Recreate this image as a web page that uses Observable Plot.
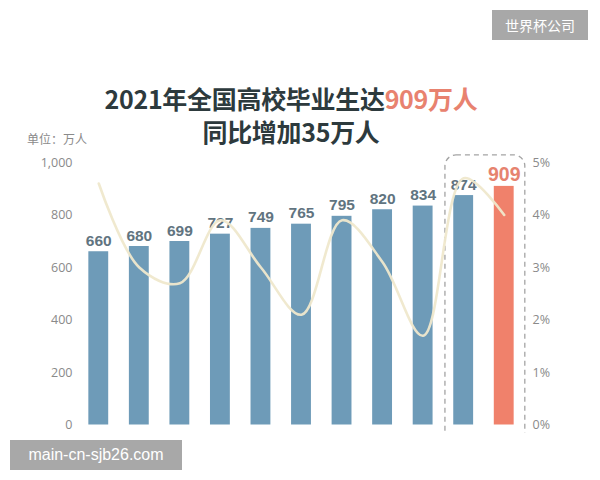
<!DOCTYPE html>
<html>
<head>
<meta charset="utf-8">
<script src="https://cdn.jsdelivr.net/npm/d3@7"></script>
<script src="https://cdn.jsdelivr.net/npm/@observablehq/plot@0.6"></script>
<style>
  html, body { margin: 0; padding: 0; background: #fff; }
  #root { position: relative; width: 600px; height: 480px; overflow: hidden; background: #fff; }
  .title { position: absolute; left: 0; width: 582px; text-align: center;
           font-family: "Noto Sans CJK SC", sans-serif; font-weight: 700; font-size: 25px;
           color: #2d3a3d; line-height: 1; white-space: nowrap; letter-spacing: -0.3px; }
  .title .hi { color: #e8826f; }
  #unit { position: absolute; left: 27px; top: 130px; font-family: "Noto Sans CJK SC", sans-serif;
          font-size: 12px; color: #8a8a8a; }
  #chart { position: absolute; left: 0; top: 140px; width: 600px; height: 293px; overflow: hidden; }
  #chart svg { position: absolute; left: 0; top: 0; }
  .tag { position: absolute; background: #a8a8a8; color: #fff; font-family: "Noto Sans CJK SC", sans-serif; }
</style>
</head>
<body>
<div id="root">
  <div class="title" style="top:86px">2021年全国高校毕业生达<span class="hi">909万人</span></div>
  <div class="title" style="top:119px">同比增加35万人</div>
  <div id="unit">单位：万人</div>
  <div id="chart"></div>
  <div class="tag" style="left:492px; top:10px; width:96px; height:30px; line-height:30px; text-align:center; font-size:14px;">世界杯公司</div>
  <div class="tag" style="left:10px; top:440px; width:172px; height:30px; line-height:30px; text-align:center; font-size:16px; font-family:'Liberation Sans', sans-serif;">main-cn-sjb26.com</div>
</div>
<script>
// Graduates of Chinese higher education (10k persons) and year-on-year growth (%)
const years = [2011, 2012, 2013, 2014, 2015, 2016, 2017, 2018, 2019, 2020, 2021];
const graduates = [660, 680, 699, 727, 749, 765, 795, 820, 834, 874, 909];
const growth = [4.6, 3.0, 2.7, 3.9, 3.0, 2.1, 3.9, 3.1, 1.7, 4.7, 4.0];
const countTicks = [0, 200, 400, 600, 800, 1000];
const rateTicks = [0, 1, 2, 3, 4, 5];
const highlightYears = [2020, 2021];

const rows = years.map((year, i) => ({year, grads: graduates[i], rate: growth[i]}));
const latest = years[years.length - 1];

const blue = "#6e9bb8";
const red = "#f0816b";

const shared = {
  width: 600,
  height: 300,
  marginLeft: 78,
  marginRight: 76,
  marginTop: 22,
  marginBottom: 15.5,
  x: {domain: [2010.5, 2021.5], axis: null}
};

const axisStyle = {
  background: "transparent",
  fontFamily: "'Open Sans', sans-serif",
  fontSize: "12.5px",
  color: "#8a8a8a",
  overflow: "visible"
};

// Bars, value labels and the dashed box around the latest two years
const bars = Plot.plot({
  ...shared,
  style: axisStyle,
  y: {domain: [0, 1000], ticks: countTicks, tickFormat: d3.format(","), tickSize: 0, tickPadding: 6, label: null, axis: "left"},
  marks: [
    Plot.rect([highlightYears], {
      x1: d => d[0] - 0.45,
      x2: d => d[1] + 0.52,
      y1: () => -100,
      y2: () => 1027,
      rx: 11,
      fill: "none",
      stroke: "#a4a4a4",
      strokeWidth: 1.3,
      strokeDasharray: "5,4"
    }),
    Plot.rectY(rows, {
      x1: d => d.year - 0.245,
      x2: d => d.year + 0.245,
      y1: 0,
      y2: "grads",
      fill: d => d.year === latest ? red : blue
    }),
    Plot.text(rows.filter(d => d.year !== latest), {
      x: "year", y: "grads", text: d => String(d.grads),
      lineAnchor: "bottom", dy: -6,
      fill: "#617480", fontSize: 15.5, fontWeight: 700,
      fontFamily: "'Liberation Sans', Arial, sans-serif"
    }),
    Plot.text(rows.filter(d => d.year === latest), {
      x: "year", y: "grads", text: d => String(d.grads),
      lineAnchor: "bottom", dy: -5,
      fill: "#e6836f", fontSize: 19.5, fontWeight: 700,
      fontFamily: "'Liberation Sans', Arial, sans-serif"
    })
  ]
});

// Growth-rate curve on its own percent scale, with the right-hand axis
const rates = Plot.plot({
  ...shared,
  style: axisStyle,
  y: {domain: [0, 5], ticks: rateTicks, tickFormat: d => d + "%", tickSize: 0, tickPadding: 8, label: null, axis: "right"},
  marks: [
    Plot.line(rows, {
      x: "year", y: "rate", curve: "catmull-rom",
      stroke: "#efe8cc", strokeWidth: 2.6, strokeOpacity: 0.95
    })
  ]
});

const chart = document.getElementById("chart");
chart.appendChild(bars);
chart.appendChild(rates);
</script>
</body>
</html>
